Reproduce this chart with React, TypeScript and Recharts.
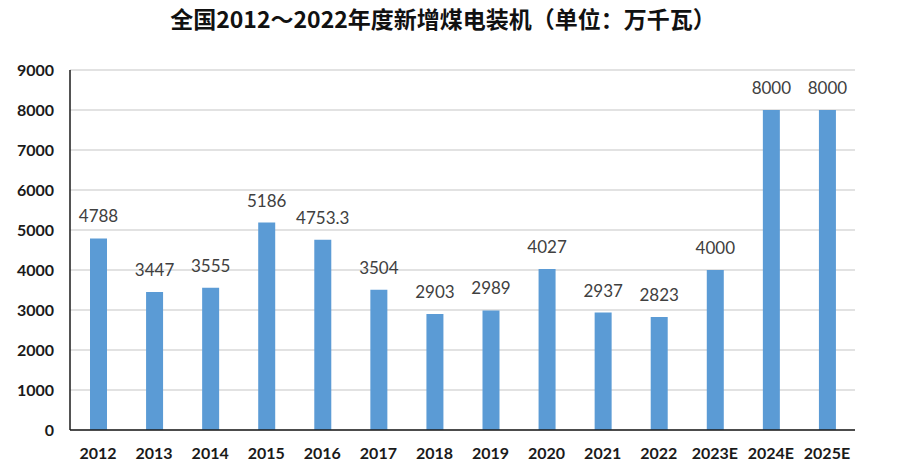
import { BarChart, Bar, XAxis, YAxis, CartesianGrid, LabelList } from "recharts";

const YEARS = ["2012", "2013", "2014", "2015", "2016", "2017", "2018", "2019", "2020", "2021", "2022", "2023E", "2024E", "2025E"];
const CAPACITY = [4788, 3447, 3555, 5186, 4753.3, 3504, 2903, 2989, 4027, 2937, 2823, 4000, 8000, 8000];
const Y_TICKS = [0, 1000, 2000, 3000, 4000, 5000, 6000, 7000, 8000, 9000];

const TITLE = "全国2012～2022年度新增煤电装机（单位：万千瓦）";

const data = YEARS.map((year, i) => ({ year, value: CAPACITY[i] }));

const tickStyle = { fill: "#1a1a1a", fontSize: 16, fontWeight: 700, fontFamily: "Lato, sans-serif" };

export default function App() {
  return (
    <div style={{ position: "absolute", left: 0, top: 0, width: 900, height: 464, background: "#fff" }}>
      <div
        style={{
          position: "absolute",
          left: 0,
          top: 2,
          width: 886,
          textAlign: "center",
          fontFamily: "'Noto Sans CJK SC', sans-serif",
          fontWeight: 700,
          fontSize: 23,
          lineHeight: "32px",
          color: "#111",
        }}
      >
        {TITLE}
      </div>
      <BarChart width={900} height={464} data={data} margin={{ top: 70, right: 45, bottom: 4, left: 8 }}>
        <CartesianGrid vertical={false} stroke="#d9d9d9" strokeWidth={1.5} />
        <XAxis
          dataKey="year"
          height={30}
          tickLine={false}
          axisLine={{ stroke: "#1a1a1a", strokeWidth: 1.5 }}
          tick={tickStyle}
          tickMargin={12}
          interval={0}
        />
        <YAxis
          width={62}
          domain={[0, 9000]}
          ticks={Y_TICKS}
          tickLine={false}
          axisLine={{ stroke: "#1a1a1a", strokeWidth: 1.5 }}
          tick={tickStyle}
          tickMargin={10}
        />
        <Bar dataKey="value" fill="#5b9bd5" barSize={17} isAnimationActive={false}>
          <LabelList
            dataKey="value"
            position="top"
            offset={16}
            fill="#404040"
            fontSize={17}
            fontFamily="Lato, sans-serif"
          />
        </Bar>
      </BarChart>
    </div>
  );
}
